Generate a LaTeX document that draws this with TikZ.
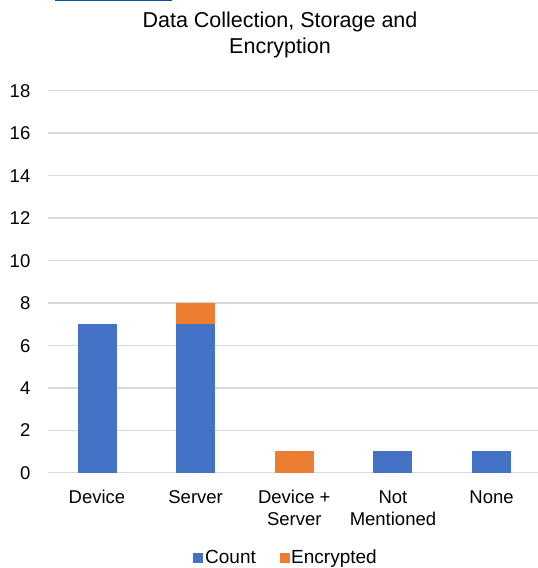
\documentclass[tikz,border=0pt]{standalone}
\usepackage{fontspec}
\setmainfont{Liberation Sans}
\definecolor{countblue}{HTML}{4472C4}
\definecolor{encorange}{HTML}{ED7D31}
\definecolor{gridgray}{HTML}{D9D9D9}
\definecolor{linkblue}{HTML}{0B4F9C}
\begin{document}
\begin{tikzpicture}[x=1bp,y=-1bp,
  gridline/.style={draw=gridgray,line width=1.4bp},
  countbar/.style={fill=countblue,draw=none},
  encbar/.style={fill=encorange,draw=none},
  ticklab/.style={anchor=base east,inner sep=0pt,font=\fontsize{18.5bp}{22.5bp}\selectfont},
  catlab/.style={anchor=base,inner sep=0pt,font=\fontsize{18.5bp}{22.5bp}\selectfont},
  legtext/.style={anchor=base west,inner sep=0pt,font=\fontsize{19bp}{22bp}\selectfont},
  titletext/.style={anchor=base,inner sep=0pt,font=\fontsize{21.5bp}{26bp}\selectfont}]
\useasboundingbox[fill=white] (0,0) rectangle (538,568);
\begin{scope}
\clip (0,0) rectangle (538,568);

% link underline at the top edge
\fill[linkblue] (55,0) rectangle (172,1.5);

% title
\node[titletext] (title) at (280,27.5)
  {\begin{tabular}[t]{@{}c@{}}Data Collection, Storage and\\Encryption\end{tabular}};

% value axis: 0 at y=472.7, 21.22 bp per unit
\def\yz{472.7}
\def\yu{21.22}
\foreach \v in {0,2,...,18}{
  \draw[gridline] (47.5,{\yz-\v*\yu}) -- (538,{\yz-\v*\yu});
  \node[ticklab] (tick\v) at (30.5,{\yz-\v*\yu+6.7}) {\v};
}

% bars: centre, count, encrypted
\def\bw{19.5}
\foreach \i/\c/\n/\e in {1/97/7/0, 2/195.65/7/1, 3/294.3/0/1, 4/392.95/1/0, 5/491.6/1/0}{
  \ifnum\n>0
    \fill[countbar] (\c-\bw,\yz) rectangle (\c+\bw,{\yz-\n*\yu});
  \fi
  \ifnum\e>0
    \fill[encbar] (\c-\bw,{\yz-\n*\yu}) rectangle (\c+\bw,{\yz-(\n+\e)*\yu});
  \fi
}

% category labels
\node[catlab] (catA) at (97,503) {Device};
\node[catlab] (catB) at (195.65,503) {Server};
\node[catlab] (catC) at (294.3,503) {\begin{tabular}[t]{@{}c@{}}Device +\\Server\end{tabular}};
\node[catlab] (catD) at (392.95,503) {\begin{tabular}[t]{@{}c@{}}Not\\Mentioned\end{tabular}};
\node[catlab] (catE) at (491.6,503) {None};

% legend
\fill[countblue] (192.7,553) rectangle (202.7,563);
\node[legtext] (legA) at (205,563.5) {Count};
\fill[encorange] (279.5,553) rectangle (289.5,563);
\node[legtext] (legB) at (291,563.5) {Encrypted};
\end{scope}
\end{tikzpicture}
\end{document}
